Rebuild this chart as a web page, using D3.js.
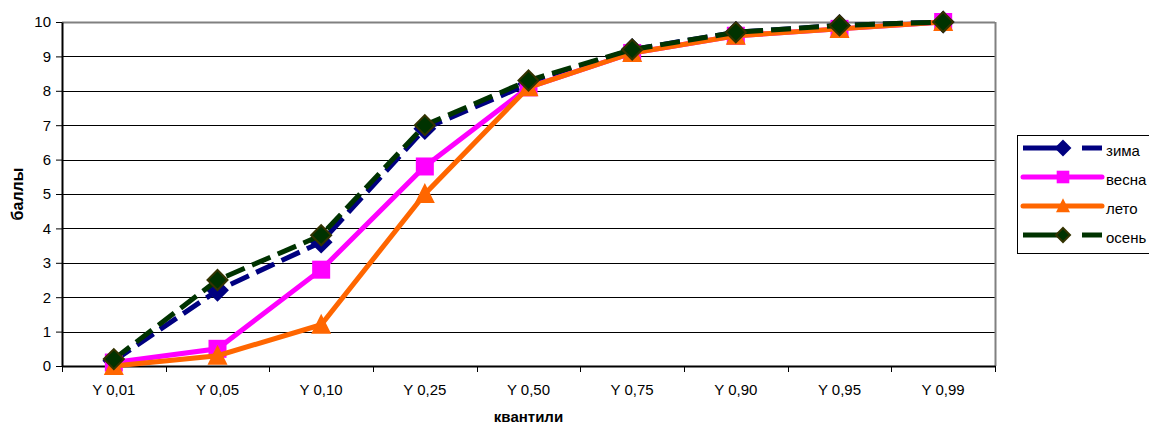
<!DOCTYPE html>
<html><head><meta charset="utf-8">
<script src="https://cdn.jsdelivr.net/npm/d3@7"></script>
<style>body{margin:0;background:#fff;font-family:"Liberation Sans",Arial,sans-serif;}</style>
</head><body>
<script>
const categories = ["Y 0,01","Y 0,05","Y 0,10","Y 0,25","Y 0,50","Y 0,75","Y 0,90","Y 0,95","Y 0,99"];
const zima  = [0.15, 2.2, 3.6, 6.9, 8.2, 9.2, 9.7, 9.9, 10.0];
const vesna = [0.1, 0.5, 2.8, 5.8, 8.1, 9.1, 9.6, 9.8, 10.0];
const leto  = [0.0, 0.3, 1.2, 5.0, 8.1, 9.1, 9.6, 9.8, 10.0];
const osen  = [0.2, 2.5, 3.8, 7.0, 8.3, 9.2, 9.7, 9.9, 10.0];
const seriesNames = ["зима","весна","лето","осень"];
const yTicks = [0,1,2,3,4,5,6,7,8,9,10];

const W=1149,H=426;
const L=62,R=995,T=22,B=366;
const svg=d3.select("body").append("svg").attr("width",W).attr("height",H);
const x=d3.scaleBand().domain(categories).range([L,R]).padding(0);
const y=d3.scaleLinear().domain([0,10]).range([B,T]);

// gridlines
svg.append("g").selectAll("line").data(yTicks.filter(d=>d>0)).join("line")
  .attr("x1",L).attr("x2",R).attr("y1",d=>Math.round(y(d))+0.5).attr("y2",d=>Math.round(y(d))+0.5)
  .attr("stroke",d=>d===10?"#808080":"#000").attr("stroke-width",d=>d===10?2:1);
// right border
svg.append("line").attr("x1",R+0.5).attr("x2",R+0.5).attr("y1",T).attr("y2",B).attr("stroke","#808080").attr("stroke-width",2);

// axes
const yAxis=svg.append("g").attr("transform",`translate(${L},0)`).call(d3.axisLeft(y).tickValues(yTicks).tickSize(6).tickPadding(5).tickSizeOuter(0));
yAxis.select(".domain").attr("stroke","#000").attr("stroke-width",2);
yAxis.selectAll(".tick line").attr("stroke","#000");
yAxis.selectAll("text").attr("font-size",15).attr("font-family","Liberation Sans, Arial").attr("fill","#000");

const xAxis=svg.append("g").attr("transform",`translate(0,${B})`).call(d3.axisBottom(x).tickSize(0).tickPadding(18));
xAxis.select(".domain").attr("stroke","#000").attr("stroke-width",2);
xAxis.selectAll("text").attr("font-size",15).attr("font-family","Liberation Sans, Arial").attr("fill","#000");
// tick marks at band boundaries
svg.append("g").selectAll("line").data(d3.range(categories.length+1)).join("line")
  .attr("x1",i=>Math.round(L+i*x.bandwidth())+0.5).attr("x2",i=>Math.round(L+i*x.bandwidth())+0.5)
  .attr("y1",B).attr("y2",B+6).attr("stroke","#000");

// titles
svg.append("text").attr("x",(L+R)/2).attr("y",422).attr("text-anchor","middle")
  .attr("font-size",15).attr("font-weight","bold").text("квантили");
svg.append("text").attr("transform",`translate(23,${(T+B)/2}) rotate(-90)`).attr("text-anchor","middle")
  .attr("font-size",16).attr("font-weight","bold").text("баллы");

const series=[
 {name:"зима",vals:zima,color:"#000080",dash:"20,8",marker:"diamond",fill:"#000080",stroke:"#000080"},
 {name:"весна",vals:vesna,color:"#ff00ff",dash:null,marker:"square",fill:"#ff00ff",stroke:"#ff00ff"},
 {name:"лето",vals:leto,color:"#ff6600",dash:null,marker:"triangle",fill:"#ff6600",stroke:"#ff6600"},
 {name:"осень",vals:osen,color:"#003300",dash:"20,8",marker:"diamond",fill:"#003300",stroke:"#333300"}
];
const cx=i=>x(categories[i])+x.bandwidth()/2;
const line=d3.line().x((d,i)=>cx(i)).y(d=>y(d));
function drawMarker(g,type,px,py,s,r){
  if(type==="diamond"){
    g.append("path").attr("d",`M${px},${py-r}L${px+r},${py}L${px},${py+r}L${px-r},${py}Z`).attr("fill",s.fill).attr("stroke",s.stroke).attr("stroke-width",2);
  } else if(type==="square"){
    const a=r*0.9;
    g.append("rect").attr("x",px-a).attr("y",py-a).attr("width",2*a).attr("height",2*a).attr("fill",s.fill);
  } else {
    g.append("path").attr("d",`M${px},${py-r*1.1}L${px+r},${py+r*0.9}L${px-r},${py+r*0.9}Z`).attr("fill",s.fill);
  }
}
series.forEach(s=>{
  const g=svg.append("g");
  g.append("path").datum(s.vals).attr("d",line).attr("fill","none").attr("stroke",s.color)
    .attr("stroke-width",5).attr("stroke-dasharray",s.dash);
  s.vals.forEach((v,i)=>drawMarker(g,s.marker,cx(i),y(v),s,10));
});

// legend
const lg=svg.append("g");
lg.append("rect").attr("x",1017.5).attr("y",135.5).attr("width",140).attr("height",118).attr("fill","#fff").attr("stroke","#000");
series.forEach((s,i)=>{
  const yy=148+i*29;
  const gg=lg.append("g");
  if(s.dash){
    gg.append("line").attr("x1",1023).attr("x2",1066).attr("y1",yy).attr("y2",yy).attr("stroke",s.color).attr("stroke-width",5);
    gg.append("line").attr("x1",1082).attr("x2",1102).attr("y1",yy).attr("y2",yy).attr("stroke",s.color).attr("stroke-width",5);
  } else {
    gg.append("line").attr("x1",1023).attr("x2",1102).attr("y1",yy).attr("y2",yy).attr("stroke",s.color).attr("stroke-width",5).attr("stroke-linecap","round");
  }
  drawMarker(gg,s.marker,1063,yy,s,7);
  gg.append("text").attr("x",1106).attr("y",yy+8).attr("font-size",15).text(s.name);
});
</script>
</body></html>
